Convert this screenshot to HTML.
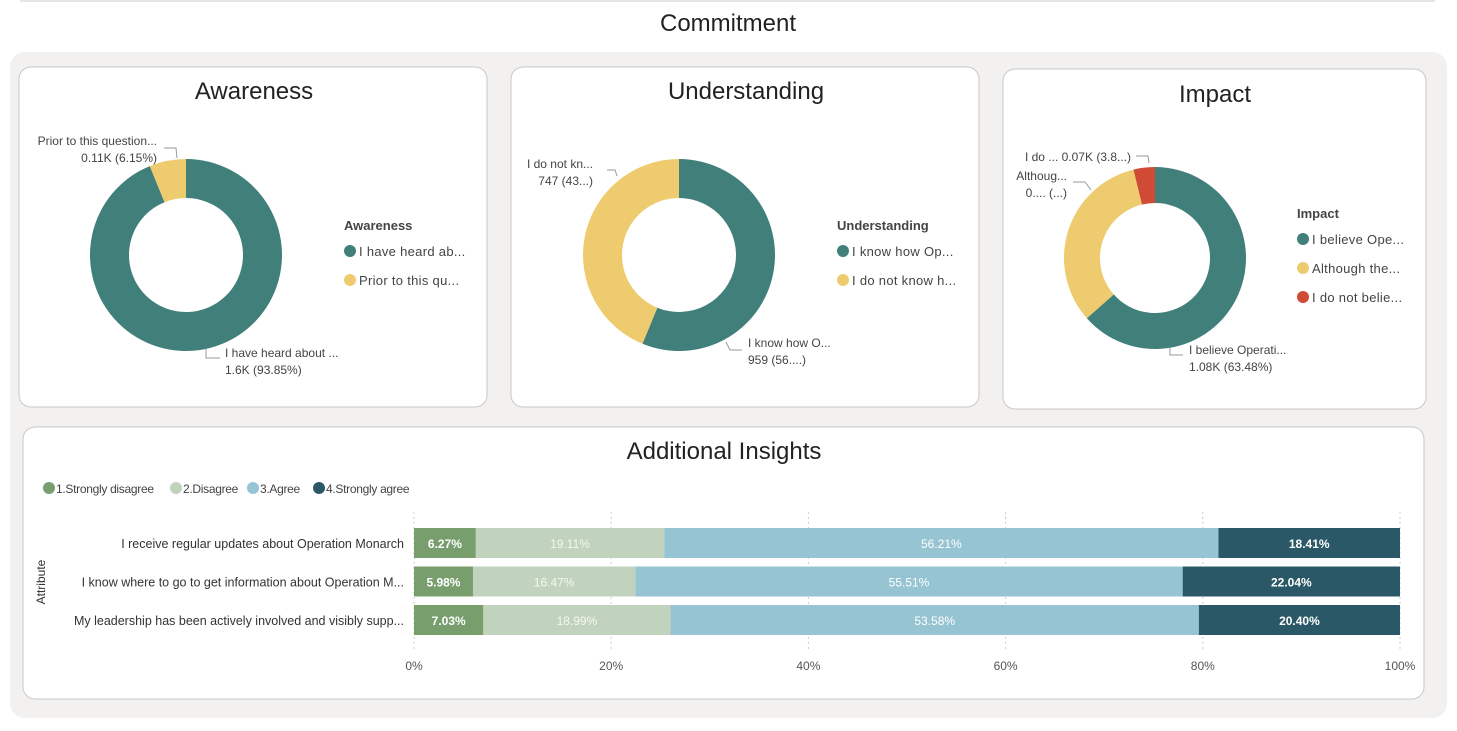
<!DOCTYPE html>
<html><head><meta charset="utf-8"><style>
body{margin:0;width:1457px;height:726px;background:#fff;overflow:hidden;font-family:"Liberation Sans",sans-serif}
svg text{font-family:"Liberation Sans",sans-serif}
</style></head><body>
<svg id="s" width="1457" height="726" xmlns="http://www.w3.org/2000/svg">
<line x1="20" y1="1" x2="1435" y2="1" stroke="#e6e6e6" stroke-width="2"/>
<text x="728" y="31" text-anchor="middle" font-size="24" fill="#222">Commitment</text>
<rect x="10" y="52" width="1437" height="666" rx="15" fill="#f2f1f0"/>
<rect x="19" y="67" width="468" height="340" rx="12" fill="#fff" stroke="#c8c8c8"/>
<rect x="511" y="67" width="468" height="340" rx="12" fill="#fff" stroke="#c8c8c8"/>
<rect x="1003" y="69" width="423" height="340" rx="12" fill="#fff" stroke="#c8c8c8"/>
<rect x="23" y="427" width="1401" height="272" rx="12" fill="#fff" stroke="#c8c8c8"/>
<text x="254" y="99" text-anchor="middle" font-size="24" fill="#222">Awareness</text>
<text x="746" y="99" text-anchor="middle" font-size="24" fill="#222">Understanding</text>
<text x="1215" y="102" text-anchor="middle" font-size="24" fill="#222">Impact</text>
<text x="724" y="459" text-anchor="middle" font-size="24" fill="#222">Additional Insights</text>
<g id="donuts"></g>
<g id="bars"></g>
</svg>
<script>
const NS="http://www.w3.org/2000/svg";
const svg=document.getElementById('s');
function mk(tag,attrs,parent,text){const e=document.createElementNS(NS,tag);for(const k in attrs)e.setAttribute(k,attrs[k]);if(text!==undefined)e.textContent=text;(parent||svg).appendChild(e);return e;}

// Donut data
const awarenessValues=[93.85,6.15];
const awarenessLegend=["I have heard ab...","Prior to this qu..."];
const understandingValues=[959,747];
const understandingLegend=["I know how Op...","I do not know h..."];
const impactValues=[63.48,32.72,3.8];
const impactLegend=["I believe Ope...","Although the...","I do not belie..."];
const donutColors=["#41807a","#eecb6e","#d04a35"];

const dg=document.getElementById('donuts');
function donut(name,cx,cy,ro,ri,vals){
  const tot=vals.reduce((a,b)=>a+b,0);let a0=0;
  vals.forEach((v,i)=>{
    const a1=a0+v/tot*2*Math.PI;
    const p=(a,r)=>[cx+r*Math.sin(a),cy-r*Math.cos(a)];
    const L=(a1-a0)>Math.PI?1:0;
    const [x1,y1]=p(a0,ro),[x2,y2]=p(a1,ro),[x3,y3]=p(a1,ri),[x4,y4]=p(a0,ri);
    const e=mk('path',{d:`M${x1},${y1}A${ro},${ro} 0 ${L} 1 ${x2},${y2}L${x3},${y3}A${ri},${ri} 0 ${L} 0 ${x4},${y4}Z`,fill:donutColors[i]},dg);
    
    
    a0=a1;
  });
}
function legend(name,x,y,title,items){
  const t=mk('text',{x:x-6,y:y+4,'font-size':13,'font-weight':'bold',fill:'#444'},dg,title);
  
  
  items.forEach((s,i)=>{
    const c=mk('circle',{cx:x,cy:y+25+i*29,r:6,fill:donutColors[i]},dg);
    
    
    const tt=mk('text',{x:x+9,y:y+30+i*29,'font-size':13,fill:'#444','letter-spacing':'0.3'},dg,s);
    
    
  });
}
function label(name,pts,lines,x,y,anchor){
  const pl=mk('polyline',{points:pts,fill:'none',stroke:'#999','stroke-width':1},dg);
  
  
  lines.forEach((s,i)=>{
    const t=mk('text',{x:x,y:y+i*17,'font-size':12,fill:'#444','text-anchor':anchor},dg,s);
    
    
  });
}
donut('awareness',186,255,96,57,awarenessValues);
donut('understanding',679,255,96,57,understandingValues);
donut('impact',1155,258,91,55,impactValues);
legend('awareness',350,226,'Awareness',awarenessLegend);
legend('understanding',843,226,'Understanding',understandingLegend);
legend('impact',1303,214,'Impact',impactLegend);
label('awareness-prior','164,148 176,148 177,158',["Prior to this question...","0.11K (6.15%)"],157,145,'end');
label('awareness-heard','206,349 206,358 220,358',["I have heard about ...","1.6K (93.85%)"],225,357,'start');
label('understanding-donot','607,170 615,170 617,176',["I do not kn...","747 (43...)"],593,168,'end');
label('understanding-know','726,342 730,350 742,350',["I know how O...","959 (56....)"],748,347,'start');
label('impact-donot','1136,156 1148,156 1149,163',["I do ... 0.07K (3.8...)"],1131,161,'end');
label('impact-although','1073,182 1085,182 1091,190',["Althoug...","0.... (...)"],1067,180,'end');
label('impact-believe','1170,348 1170,355 1183,355',["I believe Operati...","1.08K (63.48%)"],1189,354,'start');

// Bar chart data
const categories=["I receive regular updates about Operation Monarch","I know where to go to get information about Operation M...","My leadership has been actively involved and visibly supp..."];
const seriesNames=["1.Strongly disagree","2.Disagree","3.Agree","4.Strongly agree"];
const stronglyDisagree=[6.27,5.98,7.03];
const disagree=[19.11,16.47,18.99];
const agree=[56.21,55.51,53.58];
const stronglyAgree=[18.41,22.04,20.40];
const tickValues=[0,20,40,60,80,100];
const tickLabels=["0%","20%","40%","60%","80%","100%"];
const barColors=["#779e6c","#c1d3bd","#97c4d3","#2b5866"];
const labelColors=["#fff","#f4f7f3","#fff","#fff"];

const bg=document.getElementById('bars');
const X=v=>414+v/100*986;
const Y=i=>543+i*38.5;
tickValues.forEach((v,i)=>{
  const l=mk('line',{x1:X(v),x2:X(v),y1:512,y2:652,stroke:'#ccc','stroke-dasharray':'2,3'},bg);
  
  
  const t=mk('text',{x:X(v),y:670,'font-size':12,fill:'#555','text-anchor':'middle'},bg,tickLabels[i]);
  
  
});
const series=[stronglyDisagree,disagree,agree,stronglyAgree];
categories.forEach((c,i)=>{
  const t=mk('text',{x:404,y:Y(i)+5,'font-size':12.5,fill:'#333','text-anchor':'end'},bg,c);
  
  
  let acc=0;
  series.forEach((s,k)=>{
    const v=s[i];
    const r=mk('rect',{x:X(acc),y:Y(i)-15,width:X(acc+v)-X(acc),height:30,fill:barColors[k]},bg);
    
    
    const tl=mk('text',{x:(X(acc)+X(acc+v))/2,y:Y(i)+5,'font-size':12,fill:labelColors[k],'text-anchor':'middle','font-weight':(k==0||k==3)?'bold':'normal'},bg,v.toFixed(2)+'%');
    
    
    acc+=v;
  });
});
const at=mk('text',{x:45,y:582,'font-size':12,fill:'#333','text-anchor':'middle',transform:'rotate(-90 45 582)'},bg,'Attribute');


let lx=49;
const legW=[123,73,62,95];
seriesNames.forEach((n,k)=>{
  const c=mk('circle',{cx:lx,cy:488,r:6,fill:barColors[k]},bg);
  
  
  const t=mk('text',{x:lx+7,y:493,'font-size':12,fill:'#444','letter-spacing':'-0.3'},bg,n);
  
  
  lx+=legW[k]+4;
});
</script>
</body></html>
